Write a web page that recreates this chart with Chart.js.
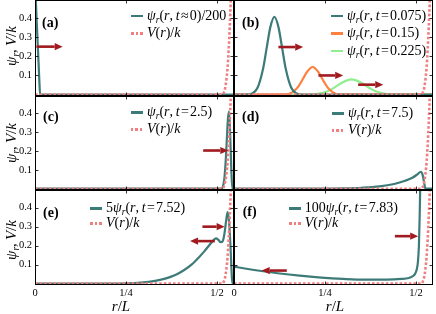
<!DOCTYPE html>
<html><head><meta charset="utf-8">
<script src="https://cdn.jsdelivr.net/npm/chart.js@4"></script>
<style>
html,body{margin:0;padding:0;background:#fff;}
#wrap{position:relative;width:436px;height:314px;overflow:hidden;font-family:"Liberation Serif",serif;color:#000;}
canvas{position:absolute;}
.leg{position:absolute;height:18px;font-size:14px;line-height:18px;white-space:nowrap;display:flex;align-items:center;}
.leg i,.ttl i{font-style:italic;}
.sb{font-size:9.5px;position:relative;top:3px;}
.sw{display:inline-block;width:12px;height:2.8px;margin-right:4px;}
.lab{position:absolute;font-weight:bold;font-size:14px;line-height:16px;}
.ttl{position:absolute;width:80px;height:18px;line-height:18px;text-align:center;font-size:15px;white-space:nowrap;}
</style></head>
<body><div id="wrap"></div>
<script>
// ---------- data ----------
const xTicks = [0, 0.25, 0.5];
const xTickLabels = ['0', '1/4', '1/2'];
const yTicks = [0.1, 0.2, 0.3, 0.4];

// potential V(r)/k (shared by all panels)
const rV = [0, 0.515, 0.519, 0.523, 0.526, 0.529, 0.532, 0.535, 0.538, 0.541, 0.545];
const vV = [0, 0, 0.012, 0.04, 0.08, 0.14, 0.23, 0.35, 0.5, 0.68, 0.95];

// (a) psi/200 at t≈0
const rA = [0, 0.004, 0.008, 0.012, 0.014, 0.545];
const psiA = [0.6, 0.41, 0.24, 0.07, 0, 0];

// (b) t = 0.075, 0.15, 0.225
const rB1 = [0, 0.03, 0.05, 0.065, 0.08, 0.09, 0.1, 0.111, 0.122, 0.132, 0.142, 0.157, 0.172, 0.19, 0.545];
const psiB1 = [0, 0, 0.006, 0.037, 0.136, 0.246, 0.353, 0.405, 0.353, 0.246, 0.136, 0.037, 0.006, 0, 0];
const rB2 = [0, 0.14, 0.16, 0.175, 0.19, 0.2, 0.216, 0.232, 0.242, 0.257, 0.272, 0.29, 0.545];
const psiB2 = [0, 0.001, 0.012, 0.038, 0.084, 0.117, 0.144, 0.117, 0.084, 0.038, 0.012, 0.001, 0];
const rB3 = [0, 0.2, 0.23, 0.255, 0.275, 0.295, 0.323, 0.351, 0.371, 0.391, 0.416, 0.446, 0.545];
const psiB3 = [0, 0, 0.004, 0.016, 0.036, 0.061, 0.08, 0.061, 0.036, 0.016, 0.004, 0, 0];

// (c) t = 2.5
const rC = [0, 0.512, 0.516, 0.52, 0.524, 0.527, 0.53, 0.533, 0.536, 0.539, 0.542, 0.545];
const psiC = [0, 0, 0.01, 0.05, 0.15, 0.26, 0.37, 0.41, 0.3, 0.12, 0, 0];

// (d) t = 7.5
const rD = [0, 0.25, 0.3, 0.35, 0.4, 0.44, 0.47, 0.49, 0.505, 0.513, 0.518, 0.522, 0.525, 0.527, 0.545];
const psiD = [0, 0.001, 0.002, 0.005, 0.012, 0.025, 0.042, 0.058, 0.078, 0.09, 0.075, 0.035, 0.005, 0, 0];

// (e) 5 psi at t = 7.52
const rE = [0, 0.2, 0.25, 0.29, 0.33, 0.36, 0.39, 0.41, 0.43, 0.45, 0.465, 0.48, 0.49, 0.497, 0.504, 0.51, 0.516, 0.521, 0.525, 0.529, 0.533, 0.537, 0.541, 0.543, 0.545];
const psiE = [0, 0.0005, 0.002, 0.006, 0.015, 0.028, 0.05, 0.072, 0.1, 0.138, 0.17, 0.205, 0.228, 0.238, 0.23, 0.218, 0.225, 0.27, 0.33, 0.377, 0.33, 0.2, 0.03, 0, 0];

// (f) 100 psi at t = 7.83
const rF = [0, 0.03, 0.07, 0.12, 0.18, 0.24, 0.3, 0.36, 0.42, 0.46, 0.48, 0.49, 0.497, 0.502, 0.505, 0.508, 0.51, 0.512];
const psiF = [0.09, 0.08, 0.068, 0.055, 0.042, 0.032, 0.025, 0.021, 0.021, 0.025, 0.03, 0.038, 0.05, 0.075, 0.11, 0.2, 0.35, 0.55];

// arrows: [tail r, head r, level]
const arrowsA = [[0.004, 0.076, 0.25]];
const arrowsB = [[0.122, 0.19, 0.248], [0.232, 0.30, 0.10], [0.341, 0.41, 0.052]];
const arrowsC = [[0.462, 0.531, 0.203]];
const arrowsD = [];
const arrowsE = [[0.46, 0.521, 0.30], [0.494, 0.426, 0.224]];
const arrowsF = [[0.145, 0.076, 0.069], [0.442, 0.506, 0.25]];

const PSI = '<i>ψ</i><span class="sb"><i>r</i></span>';
const legendA = [['psi', PSI + '(<i>r</i>,&#8201;<i>t</i>&#8202;≈&#8202;0)/200'], ['V', '<i>V</i>(<i>r</i>)/<i>k</i>']];
const legendB = [['psi', PSI + '(<i>r</i>,&#8201;<i>t</i>&#8202;=&#8202;0.075)'], ['psi2', PSI + '(<i>r</i>,&#8201;<i>t</i>&#8202;=&#8202;0.15)'], ['psi3', PSI + '(<i>r</i>,&#8201;<i>t</i>&#8202;=&#8202;0.225)']];
const legendC = [['psi', PSI + '(<i>r</i>,&#8201;<i>t</i>&#8202;=&#8202;2.5)'], ['V', '<i>V</i>(<i>r</i>)/<i>k</i>']];
const legendD = [['psi', PSI + '(<i>r</i>,&#8201;<i>t</i>&#8202;=&#8202;7.5)'], ['V', '<i>V</i>(<i>r</i>)/<i>k</i>']];
const legendE = [['psi', '5' + PSI + '(<i>r</i>,&#8201;<i>t</i>&#8202;=&#8202;7.52)'], ['V', '<i>V</i>(<i>r</i>)/<i>k</i>']];
const legendF = [['psi', '100' + PSI + '(<i>r</i>,&#8201;<i>t</i>&#8202;=&#8202;7.83)'], ['V', '<i>V</i>(<i>r</i>)/<i>k</i>']];

// ---------- style / layout ----------
const COLORS = {psi: '#3d7b78', psi2: '#ff7f3f', psi3: '#90ee90', V: '#f08080', arrow: '#a01a1f'};
const X_MAX = 0.5467, Y_MIN = -0.007, Y_MAX = 0.493;
const cols = [{plotL: 35, plotR: 234, canL: 0, canR: 236}, {plotL: 234, plotR: 433, canL: 222, canR: 436}];
const rows = [{plotT: 0, plotB: 96, canT: 0, canB: 98}, {plotT: 96, plotB: 190, canT: 94, canB: 192}, {plotT: 190, plotB: 285, canT: 188, canB: 314}];
const wrap = document.getElementById('wrap');
const arrowMap = {};

function zeroPad(s) { s.paddingTop = 0; s.paddingBottom = 0; s.paddingLeft = 0; s.paddingRight = 0; }

const framePlugin = {
  id: 'frame',
  afterDatasetsDraw(chart) {
    const {ctx, chartArea: a, scales: {x, y}} = chart;
    ctx.save();
    const arrows = arrowMap[chart.canvas.id] || [];
    ctx.strokeStyle = COLORS.arrow; ctx.fillStyle = COLORS.arrow; ctx.lineWidth = 2.6;
    arrows.forEach(([r0, r1, v]) => {
      const x0 = x.getPixelForValue(r0), x1 = x.getPixelForValue(r1), py = y.getPixelForValue(v);
      const dir = Math.sign(x1 - x0), head = 8, hw = 3.6;
      ctx.beginPath(); ctx.moveTo(x0, py); ctx.lineTo(x1 - dir * head, py); ctx.stroke();
      ctx.beginPath(); ctx.moveTo(x1, py); ctx.lineTo(x1 - dir * head, py - hw); ctx.lineTo(x1 - dir * head, py + hw); ctx.closePath(); ctx.fill();
    });
    const L = Math.round(a.left) + 0.5, R = Math.round(a.right) - 0.5, T = Math.round(a.top) + 0.5, B = Math.round(a.bottom) - 0.5;
    ctx.strokeStyle = '#000'; ctx.lineWidth = 1;
    ctx.strokeRect(L, T, R - L, B - T);
    ctx.lineWidth = 0.8;
    ctx.beginPath();
    xTicks.forEach(t => { const px = Math.round(x.getPixelForValue(t)) + 0.5; ctx.moveTo(px, B); ctx.lineTo(px, B - 3); ctx.moveTo(px, T); ctx.lineTo(px, T + 3); });
    yTicks.forEach(t => { const py = Math.round(y.getPixelForValue(t)) + 0.5; ctx.moveTo(L, py); ctx.lineTo(L + 3, py); ctx.moveTo(R, py); ctx.lineTo(R - 3, py); });
    ctx.stroke();
    ctx.restore();
  }
};

function makePanel(p) {
  const c = cols[p.col], r = rows[p.row];
  const cv = document.createElement('canvas');
  cv.id = 'panel-' + p.id;
  const W = c.canR - c.canL, H = r.canB - r.canT;
  cv.width = W; cv.height = H;
  cv.style.left = c.canL + 'px'; cv.style.top = r.canT + 'px';
  cv.style.width = W + 'px'; cv.style.height = H + 'px';
  wrap.appendChild(cv);
  arrowMap[cv.id] = p.arrows;
  const showX = p.row === 2, showY = p.col === 0;
  const datasets = p.series.map(([xs, ys, color]) => ({
    data: xs.map((v, i) => ({x: v, y: ys[i]})), borderColor: color, borderWidth: 2.2,
    pointRadius: 0, cubicInterpolationMode: 'monotone', order: 1, fill: false
  }));
  datasets.push({
    data: rV.map((v, i) => ({x: v, y: vV[i]})), borderColor: COLORS.V, borderWidth: 2.6,
    borderDash: [2.6, 2], pointRadius: 0, cubicInterpolationMode: 'monotone', order: 0, fill: false
  });
  const font = {family: 'Liberation Serif', size: 10.5};
  new Chart(cv, {
    type: 'line',
    data: {datasets},
    options: {
      responsive: false, maintainAspectRatio: false, animation: false, devicePixelRatio: 1, events: [],
      layout: {padding: {left: 0, top: r.plotT - r.canT, right: c.canR - c.plotR, bottom: 0}},
      plugins: {legend: {display: false}, tooltip: {enabled: false}},
      scales: {
        x: {
          type: 'linear', min: 0, max: X_MAX,
          afterBuildTicks: s => { s.ticks = xTicks.map(v => ({value: v})); },
          ticks: {display: showX, padding: 2, font, color: '#000', maxRotation: 0, autoSkip: false,
                  callback: v => { const i = xTicks.indexOf(v); return i >= 0 ? xTickLabels[i] : ''; }},
          grid: {display: false, drawTicks: false}, border: {display: false},
          afterFit: s => { s.height = r.canB - r.plotB; zeroPad(s); }
        },
        y: {
          type: 'linear', min: Y_MIN, max: Y_MAX,
          afterBuildTicks: s => { s.ticks = yTicks.map(v => ({value: v})); },
          ticks: {display: showY, padding: 3, font, color: '#000', callback: v => v.toFixed(1)},
          grid: {display: false, drawTicks: false}, border: {display: false},
          afterFit: s => { s.width = c.plotL - c.canL; zeroPad(s); }
        }
      }
    },
    plugins: [framePlugin]
  });
}

const panels = [
  {id: 'a', col: 0, row: 0, series: [[rA, psiA, COLORS.psi]], arrows: arrowsA},
  {id: 'b', col: 1, row: 0, series: [[rB1, psiB1, COLORS.psi], [rB2, psiB2, COLORS.psi2], [rB3, psiB3, COLORS.psi3]], arrows: arrowsB},
  {id: 'c', col: 0, row: 1, series: [[rC, psiC, COLORS.psi]], arrows: arrowsC},
  {id: 'd', col: 1, row: 1, series: [[rD, psiD, COLORS.psi]], arrows: arrowsD},
  {id: 'e', col: 0, row: 2, series: [[rE, psiE, COLORS.psi]], arrows: arrowsE},
  {id: 'f', col: 1, row: 2, series: [[rF, psiF, COLORS.psi]], arrows: arrowsF}
];
panels.forEach(makePanel);

// ---------- text overlays ----------
function addEl(cls, html, left, top) {
  const d = document.createElement('div');
  d.className = cls; d.innerHTML = html;
  d.style.left = left + 'px'; d.style.top = top + 'px';
  wrap.appendChild(d); return d;
}
function swatch(kind) {
  if (kind === 'V') return '<span class="sw" style="height:3px;background:repeating-linear-gradient(90deg,' + COLORS.V + ' 0 2.5px,transparent 2.5px 4.5px)"></span>';
  return '<span class="sw" style="background:' + COLORS[kind] + '"></span>';
}
const legendPlaces = [
  [legendA, 131, [16, 33]], [legendB, 331, [16, 33.5, 51]],
  [legendC, 131, [112.7, 129.3]], [legendD, 332, [113.3, 130]],
  [legendE, 90, [208.3, 223.3]], [legendF, 288.7, [208.3, 223.3]]
];
legendPlaces.forEach(([items, x, ys]) => {
  items.forEach(([kind, html], i) => addEl('leg', swatch(kind) + '<span>' + html + '</span>', x, ys[i] - 9));
});
[['(a)', 42, 22.7], ['(b)', 242, 22.7], ['(c)', 43, 116.7], ['(d)', 242, 116.7], ['(e)', 43, 213.3], ['(f)', 242.7, 211.7]]
  .forEach(([t, x, y]) => addEl('lab', t, x, y - 8));
[46, 143, 240].forEach(cy => {
  const d = addEl('ttl', PSI + ',&#8201;<i>V</i>/<i>k</i>', 11 - 40, cy - 9);
  d.style.transform = 'rotate(-90deg)';
});
[121, 335].forEach(cx => {
  addEl('ttl', '<i>r</i>/<i>L</i>', cx - 40, 306 - 9);
});
</script>
</body></html>
